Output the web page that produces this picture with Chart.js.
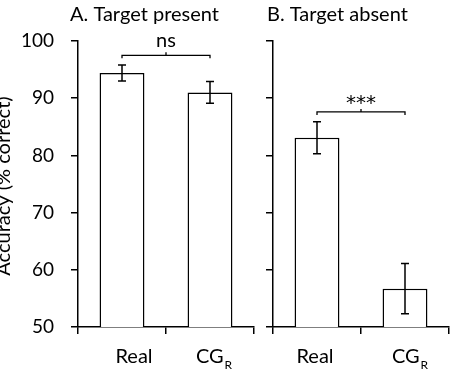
<!DOCTYPE html>
<html>
<head>
<meta charset="utf-8">
<script src="https://cdn.jsdelivr.net/npm/chart.js@4"></script>
<style>
  html, body { margin: 0; padding: 0; background: #fff; }
  #wrap { position: relative; width: 456px; height: 371px; overflow: hidden; }
  canvas { position: absolute; top: 0; }
</style>
</head>
<body>
<div id="wrap">
  <canvas id="chartA" width="262" height="371" style="left:0"></canvas>
  <canvas id="chartB" width="194" height="371" style="left:262px"></canvas>
</div>
<script>
var categories = ['Real', 'CG'];
var subscripts = ['', 'R'];
var yTicks = [50, 60, 70, 80, 90, 100];

var presentValues = [94.4, 91.0];
var presentErrors = [1.4, 1.9];
var absentValues = [83.1, 56.7];
var absentErrors = [2.8, 4.4];

var presentBracket = [97.5];   // level of the bracket, in % correct
var absentBracket = [87.6];
var presentSig = 'ns';
var absentSig = '***';

var FONT = 'Lato, "Open Sans", sans-serif';

// error bars, significance bracket, titles and the x labels with subscript
var extras = {
    id: 'extras',
    afterDatasetsDraw: function(chart, args, opts) {
        var ctx = chart.ctx;
        var x = chart.scales.x, y = chart.scales.y;
        var area = chart.chartArea;
        ctx.save();
        ctx.strokeStyle = '#000';
        ctx.fillStyle = '#000';
        ctx.lineWidth = 1.5;

        var vals = chart.data.datasets[0].data;
        opts.errors.forEach(function(e, i) {
            var cx = x.getPixelForValue(i);
            var top = y.getPixelForValue(vals[i] + e);
            var bot = y.getPixelForValue(vals[i] - e);
            ctx.beginPath();
            ctx.moveTo(cx, top); ctx.lineTo(cx, bot);
            ctx.moveTo(cx - 4, top); ctx.lineTo(cx + 4, top);
            ctx.moveTo(cx - 4, bot); ctx.lineTo(cx + 4, bot);
            ctx.stroke();
        });

        // bracket between the two bars
        var x0 = x.getPixelForValue(0), x1 = x.getPixelForValue(1);
        var by = y.getPixelForValue(opts.bracket[0]);
        var mid = (x0 + x1) / 2;
        ctx.lineWidth = 1.3;
        ctx.beginPath();
        ctx.moveTo(x0, by + 3); ctx.lineTo(x0, by); ctx.lineTo(x1, by); ctx.lineTo(x1, by + 3);
        ctx.moveTo(mid, by); ctx.lineTo(mid, by - 3);
        ctx.stroke();
        ctx.textAlign = 'center';
        ctx.textBaseline = 'alphabetic';
        if (opts.sig === 'ns') {
            ctx.font = '20px ' + FONT;
            ctx.fillText(opts.sig, mid, by - 8);
        } else {
            ctx.font = '20px "DejaVu Sans", sans-serif';
            ctx.fillText(opts.sig, mid, by - 3);
        }

        // panel title
        ctx.textAlign = 'left';
        ctx.font = '20px ' + FONT;
        ctx.fillText(opts.title, area.left + opts.titleDx, 21);

        // category labels with subscript
        categories.forEach(function(c, i) {
            var cx = x.getPixelForValue(i) + opts.labelDx[i];
            var base = area.bottom + 36;
            ctx.font = '20px ' + FONT;
            var w1 = ctx.measureText(c).width;
            ctx.font = '12px ' + FONT;
            var w2 = subscripts[i] ? ctx.measureText(subscripts[i]).width + 1 : 0;
            var sx = cx - (w1 + w2) / 2;
            ctx.font = '20px ' + FONT;
            ctx.fillText(c, sx, base);
            if (subscripts[i]) {
                ctx.font = '12px ' + FONT;
                ctx.fillText(subscripts[i], sx + w1 + 1, base + 6);
            }
        });

        // y axis title
        if (opts.yTitle) {
            ctx.translate(4, 186);
            ctx.rotate(-Math.PI / 2);
            ctx.textAlign = 'center';
            ctx.textBaseline = 'middle';
            ctx.font = '20px ' + FONT;
            ctx.fillText(opts.yTitle, 0, 0);
        }
        ctx.restore();
    }
};

function makeChart(id, values, opts) {
    var ctx = document.getElementById(id).getContext('2d');
    return new Chart(ctx, {
        type: 'bar',
        data: {
            labels: categories,
            datasets: [{
                data: values,
                backgroundColor: '#fff',
                borderColor: '#000',
                borderWidth: 1.5,
                borderSkipped: false,
                barPercentage: 0.51,
                categoryPercentage: 1
            }]
        },
        options: {
            responsive: false,
            animation: false,
            events: [],
            layout: { padding: { top: 41, right: opts.padRight, left: 0, bottom: 0 } },
            plugins: {
                legend: { display: false },
                tooltip: { enabled: false },
                extras: opts
            },
            scales: {
                x: {
                    grid: { offset: true, drawOnChartArea: false, drawTicks: true, tickLength: 7, color: '#000', lineWidth: 1.5 },
                    border: { color: '#000', width: 1.5 },
                    ticks: { color: 'transparent' },
                    afterFit: function(s) { s.height = 44; }
                },
                y: {
                    min: 50,
                    max: 100,
                    afterBuildTicks: function(s) { s.ticks = yTicks.map(function(v) { return { value: v }; }); },
                    grid: { drawOnChartArea: false, drawTicks: true, tickLength: 7, color: '#000', lineWidth: 1.5 },
                    border: { color: '#000', width: 1.5 },
                    ticks: {
                        color: opts.showYLabels ? '#000' : 'transparent',
                        font: { family: FONT, size: 19 },
                        padding: 17
                    },
                    afterFit: function(s) { s.width = opts.yWidth; }
                }
            }
        },
        plugins: [extras]
    });
}

makeChart('chartA', presentValues, {
    errors: presentErrors, bracket: presentBracket, sig: presentSig,
    title: 'A. Target present', titleDx: -8, labelDx: [12, 4],
    yTitle: 'Accuracy (% correct)', showYLabels: true, yWidth: 78, padRight: 8
});
makeChart('chartB', absentValues, {
    errors: absentErrors, bracket: absentBracket, sig: absentSig,
    title: 'B. Target absent', titleDx: -6, labelDx: [-2, 5],
    yTitle: '', showYLabels: false, yWidth: 11, padRight: 7
});
</script>
</body>
</html>
